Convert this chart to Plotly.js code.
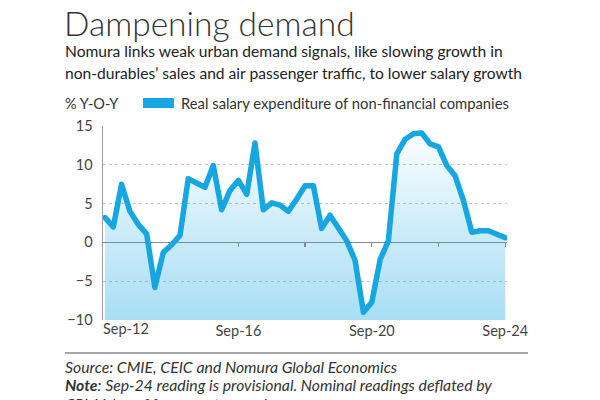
<!DOCTYPE html>
<html>
<head>
<meta charset="utf-8">
<script src="https://cdn.plot.ly/plotly-3.0.1.min.js"></script>
<style>
  html, body { margin: 0; padding: 0; background: #fff; }
  #chart { width: 600px; height: 400px; }
  path.js-line { stroke-linejoin: round !important; stroke-linecap: round !important; }
</style>
</head>
<body>
<div id="chart"></div>
<script>
// ---- Data (quarterly, Sep-12 to Sep-24) ----
const START_YEAR = 2012;
const START_MONTH = 9; // September
const salaryGrowth = [
  3.2, 2.0, 7.5, 4.0, 2.3, 1.1, -5.8, -1.3, -0.3, 0.9,
  8.2, 7.7, 7.1, 9.9, 4.2, 6.7, 8.0, 6.2, 12.8, 4.2,
  5.1, 4.8, 4.0, 5.6, 7.3, 7.3, 1.8, 3.5, 1.8, 0.2,
  -2.3, -9.0, -7.7, -2.2, 0.2, 11.4, 13.3, 14.0, 14.1, 12.7,
  12.3, 9.9, 8.6, 5.4, 1.3, 1.5, 1.5, 1.1, 0.6
];
const labelTickDates = ['2016-09-01', '2020-09-01', '2024-09-01'];
const labelTickText = ['Sep-16', 'Sep-20', 'Sep-24'];
const firstTickText = 'Sep-12';
const minorTickDates = ['2014-09-01', '2016-09-01', '2018-09-01', '2020-09-01', '2022-09-01', '2024-09-01'];
const yTicks = [-10, -5, 0, 5, 10, 15];
const Y_MIN = -10, Y_MAX = 15;

// quarter dates
const dates = salaryGrowth.map((_, i) => {
  const m0 = (START_MONTH - 1) + 3 * i;
  const y = START_YEAR + Math.floor(m0 / 12);
  const m = (m0 % 12) + 1;
  return y + '-' + String(m).padStart(2, '0') + '-01';
});

// ---- layout helpers (pixel -> paper) ----
const L = 103, R = 507, T = 126, B = 320;
const px = x => (x - L) / (R - L);
const py = y => (B - y) / (B - T);

const LINE_BLUE = '#16a6e2';
const FONT = 'Lato, "Noto Sans", sans-serif';

const traces = [
  { // baseline for the fill
    x: [dates[0], dates[dates.length - 1]],
    y: [Y_MIN, Y_MIN],
    mode: 'lines', line: { width: 0 }, showlegend: false, hoverinfo: 'skip'
  },
  {
    x: dates, y: salaryGrowth,
    mode: 'lines',
    line: { color: LINE_BLUE, width: 5.5 },
    fill: 'tonexty',
    fillgradient: {
      type: 'vertical', start: Y_MIN, stop: Y_MAX,
      colorscale: [[0, 'rgba(22,166,226,0.37)'], [0.45, 'rgba(22,166,226,0.22)'], [1, 'rgba(22,166,226,0.0)']]
    },
    showlegend: false, name: 'Real salary expenditure of non-financial companies'
  },
  { // carrier for the tick axis on the zero line
    x: dates, y: salaryGrowth, xaxis: 'x2', yaxis: 'y',
    mode: 'lines', line: { width: 0 }, opacity: 0, showlegend: false, hoverinfo: 'skip'
  }
];

const xRange = ['2012-08-10', '2024-09-20'];

const layout = {
  width: 600, height: 400,
  margin: { l: L, r: 600 - R, t: T, b: 400 - B },
  paper_bgcolor: '#fff', plot_bgcolor: '#fff',
  font: { family: FONT, color: '#333' },
  showlegend: false,
  xaxis: {
    type: 'date', range: xRange,
    tickvals: labelTickDates, ticktext: labelTickText,
    ticks: '', showgrid: false, zeroline: false, showline: false,
    tickfont: { family: FONT, size: 14.5, color: '#444' },
    ticklabelstandoff: 0,
    fixedrange: true
  },
  xaxis2: {
    type: 'date', range: xRange, overlaying: 'x', anchor: 'free', position: (0 - Y_MIN) / (Y_MAX - Y_MIN),
    tickvals: minorTickDates, ticks: 'outside', ticklen: 4, tickwidth: 1.2, tickcolor: '#888',
    showticklabels: false, showgrid: false, zeroline: false, showline: false, fixedrange: true
  },
  yaxis: {
    range: [Y_MIN, Y_MAX], tickvals: yTicks,
    showgrid: true, gridcolor: '#c8c8c8', griddash: 'dot', gridwidth: 1,
    zeroline: true, zerolinecolor: '#8a8a8a', zerolinewidth: 1.5,
    showline: true, linecolor: '#9a9a9a', linewidth: 1.5,
    ticks: '', ticklabelstandoff: 6,
    tickfont: { family: FONT, size: 14.5, color: '#444' },
    fixedrange: true
  },
  shapes: [
    { type: 'rect', xref: 'paper', yref: 'paper', x0: px(143), x1: px(174), y0: py(108), y1: py(98),
      fillcolor: LINE_BLUE, line: { width: 0 } },
    { type: 'line', xref: 'paper', yref: 'paper', x0: px(65), x1: px(528), y0: py(353), y1: py(353),
      line: { color: '#8a8a8a', width: 1.5 } }
  ],
  annotations: [
    { text: 'Dampening demand', xref: 'paper', yref: 'paper', x: px(62), y: py(23),
      xanchor: 'left', yanchor: 'middle', showarrow: false,
      font: { family: FONT, size: 33.5, weight: 300, color: '#333' } },
    { text: 'Nomura links weak urban demand signals, like slowing growth in', xref: 'paper', yref: 'paper',
      x: px(63), y: py(51), xanchor: 'left', yanchor: 'middle', showarrow: false,
      font: { family: FONT, size: 15.6, color: '#222' } },
    { text: 'non-durables\u2019 sales and air passenger traffic, to lower salary growth', xref: 'paper', yref: 'paper',
      x: px(63), y: py(73), xanchor: 'left', yanchor: 'middle', showarrow: false,
      font: { family: FONT, size: 15.6, color: '#222' } },
    { text: '% Y-O-Y', xref: 'paper', yref: 'paper', x: px(63), y: py(103),
      xanchor: 'left', yanchor: 'middle', showarrow: false,
      font: { family: FONT, size: 14.5, color: '#333' } },
    { text: 'Real salary expenditure of non-financial companies', xref: 'paper', yref: 'paper',
      x: px(179), y: py(103), xanchor: 'left', yanchor: 'middle', showarrow: false,
      font: { family: FONT, size: 14.8, color: '#333' } },
    { text: firstTickText, xref: 'x', yref: 'paper', x: dates[0], y: py(328),
      xanchor: 'left', yanchor: 'middle', xshift: -4, showarrow: false,
      font: { family: FONT, size: 14.5, color: '#444' } },
    { text: '<i>Source: CMIE, CEIC and Nomura Global Economics</i>', xref: 'paper', yref: 'paper',
      x: px(63), y: py(366), xanchor: 'left', yanchor: 'middle', showarrow: false,
      font: { family: FONT, size: 15.8, color: '#333' } },
    { text: '<i><b>Note</b>: Sep-24 reading is provisional. Nominal readings deflated by</i>', xref: 'paper', yref: 'paper',
      x: px(63), y: py(384), xanchor: 'left', yanchor: 'middle', showarrow: false,
      font: { family: FONT, size: 15.8, color: '#333' } },
    { text: '<i>CPI. Value of four-quarter moving average</i>', xref: 'paper', yref: 'paper',
      x: px(63), y: py(403), xanchor: 'left', yanchor: 'middle', showarrow: false,
      font: { family: FONT, size: 15.8, color: '#333' } }
  ]
};

Plotly.newPlot('chart', traces, layout, { displayModeBar: false, staticPlot: true });
</script>
</body>
</html>
